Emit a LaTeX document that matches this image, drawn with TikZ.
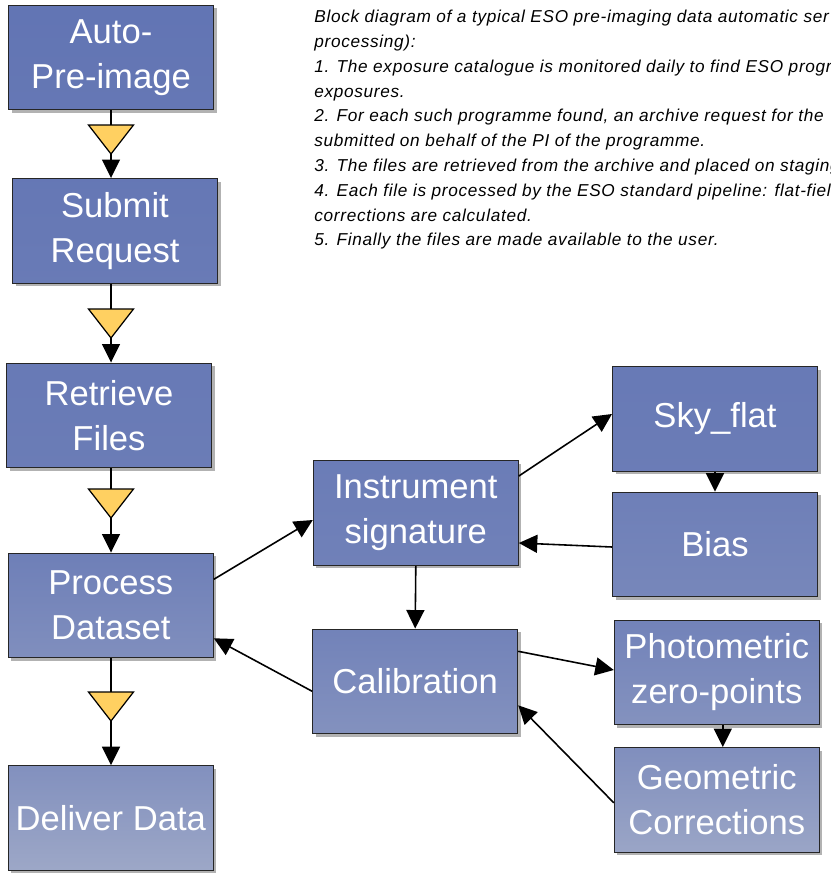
\documentclass[tikz,border=0pt]{standalone}
\usepackage{fontspec}
\setmainfont{Liberation Sans}
\newfontfamily\notefont[LetterSpace=4]{Liberation Sans}
\usetikzlibrary{arrows.meta, shadows}
\definecolor{boxdark}{HTML}{6073B3}
\definecolor{boxlight}{HTML}{A0AAC8}
\definecolor{wedgeyellow}{HTML}{FFD061}
\newcommand\blkfont{\fontsize{19.7}{25.6}\selectfont}
\tikzset{
  blk/.style 2 args={draw=black!85, line width=0.6pt, minimum width=4.1cm,
    minimum height=2.09cm, inner sep=0pt, align=center, text=white, font=\blkfont,
    top color=boxdark!#1!boxlight, bottom color=boxdark!#2!boxlight,
    drop shadow={shadow xshift=1.8pt, shadow yshift=-1.8pt, fill=black, opacity=0.3}},
  link/.style={line width=0.9pt, -{Triangle[length=0.37cm,width=0.36cm]}},
  wedge/.style={draw=black, line width=0.7pt, fill=wedgeyellow}
}

\begin{document}
\begin{tikzpicture}[x=0.02cm, y=-0.02cm]
\useasboundingbox (0,0) rectangle (831,876);
\clip (0,0) rectangle (831,876);

% pipeline column
\node[blk={97}{92}] (auto) at (111,57.5) {Auto-\\Pre-image};
\node[blk={92}{86}] (submit) at (115,230.8) {Submit\\Request};
\node[blk={88}{83}] (retr) at (109,415.3) {Retrieve\\Files};
\node[blk={78}{50}] (proc) at (110.8,605.3) {Process\\Dataset};
\node[blk={47}{5}] (deliv) at (110.8,818) {Deliver Data};

% processing blocks
\node[blk={83}{75}] (instr) at (415.8,513) {Instrument\\signature};
\node[blk={72}{45}] (calib) at (415.2,681.3) {Calibration};
\node[blk={88}{83}] (sky) at (715,419) {Sky\_flat};
\node[blk={78}{64}] (bias) at (715,544.5) {Bias};
\node[blk={72}{44}] (photo) at (716.8,672.5) {Photometric\\zero-points};
\node[blk={50}{9}] (geo) at (716.8,799.8) {Geometric\\Corrections};

\node[anchor=north west, inner sep=0pt, align=left,
  font=\notefont\itshape\fontsize{9.8}{14.1}\selectfont] (note) at (314,10)
  {Block diagram of a typical ESO pre-imaging data automatic ser\\
   processing):\\
   1. The exposure catalogue is monitored daily to find ESO progr\\
   exposures.\\
   2. For each such programme found, an archive request for the\\
   submitted on behalf of the PI of the programme.\\
   3. The files are retrieved from the archive and placed on staging\\
   4. Each file is processed by the ESO standard pipeline: flat-field\\
   corrections are calculated.\\
   5. Finally the files are made available to the user.};

% main flow with yellow wedges
\foreach \a/\b/\t in {auto/submit/125, submit/retr/309, retr/proc/489, proc/deliv/692}{
  \draw[link] (auto.south |- \a.south) -- (auto.south |- \b.north);
  \filldraw[wedge] (auto.south |- 0,\t) ++(-22.5,0) -- ++(45,0) -- ++(-22.5,29) -- cycle;
}

\draw[link] ([yshift=0.52cm]proc.east) -- ([yshift=-0.14cm]instr.west);
\draw[link] ([yshift=-0.2cm]calib.west) -- ([yshift=-0.66cm]proc.east);
\draw[link] ([yshift=0.74cm]instr.east) -- ([yshift=0.1cm]sky.west);
\draw[link] ([yshift=-0.05cm]bias.west) -- ([yshift=-0.6cm]instr.east);
\draw[link] (instr.south) -- (calib.north);
\draw[link] (sky.south) -- (bias.north);
\draw[link] ([yshift=0.6cm]calib.east) -- ([yshift=0.05cm]photo.west);
\draw[link] ([xshift=0.12cm]photo.south) -- ([xshift=0.12cm]geo.north);
\draw[link] ([yshift=-0.06cm]geo.west) -- ([yshift=-0.48cm]calib.east);
\end{tikzpicture}
\end{document}
